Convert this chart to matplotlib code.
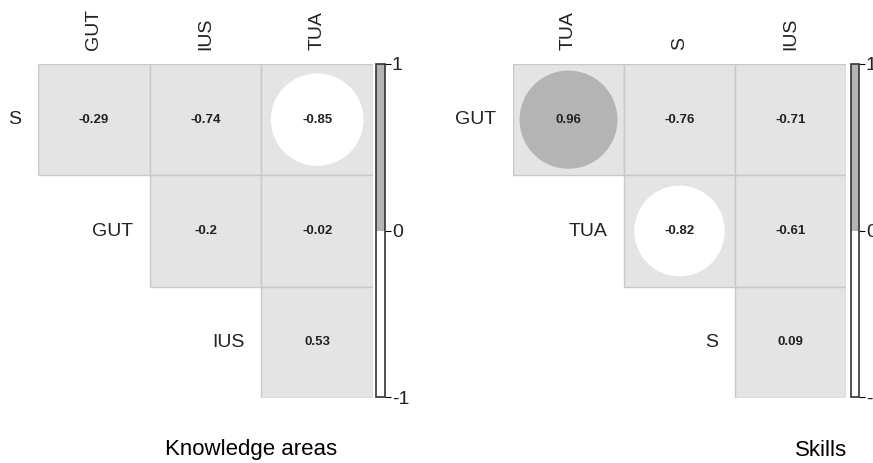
import numpy as np
import matplotlib.pyplot as plt
from matplotlib.patches import Rectangle, Circle
from matplotlib.colors import ListedColormap, Normalize
from matplotlib.cm import ScalarMappable

plt.rcParams['font.family'] = ['Liberation Sans', 'DejaVu Sans']

# Knowledge areas (upper triangle, None = empty)
ka_rows = ['S', 'GUT', 'IUS']
ka_cols = ['GUT', 'IUS', 'TUA']
ka_vals = [[-0.29, -0.74, -0.85],
           [None, -0.2, -0.02],
           [None, None, 0.53]]

# Skills
sk_rows = ['GUT', 'TUA', 'S']
sk_cols = ['TUA', 'S', 'IUS']
sk_vals = [[0.96, -0.76, -0.71],
           [None, -0.82, -0.61],
           [None, None, 0.09]]

# only strong correlations get a circle
show_min = 0.8

cmap = ListedColormap(['white', '#b4b4b4'])
norm = Normalize(-1, 1)

fig = plt.figure(figsize=(8.73, 4.63), dpi=100)
W, H = 873, 463


def px_axes(x0, y0, x1, y1):
    # pixel box (top-left origin) -> figure axes
    return fig.add_axes([x0 / W, 1 - y1 / H, (x1 - x0) / W, (y1 - y0) / H])


def corr_panel(box, cbox, rows, cols, vals, title, title_x):
    ax = px_axes(*box)
    n = len(rows)
    ax.set_xlim(0, n)
    ax.set_ylim(n, 0)
    ax.axis('off')
    for i in range(n):
        for j in range(n):
            v = vals[i][j]
            if v is None:
                continue
            ax.add_patch(Rectangle((j, i), 1, 1, facecolor='#e4e4e4',
                                   edgecolor='#c8c8c8', lw=1))
            if abs(v) >= show_min:
                r = 0.45 * np.sqrt(abs(v))
                ax.add_patch(Circle((j + 0.5, i + 0.5), r,
                                    facecolor=cmap(norm(v)), edgecolor='none'))
            ax.text(j + 0.5, i + 0.5, f'{v:g}', ha='center', va='center',
                    fontsize=9.5, fontweight='bold', color='#222222')
        # row label left of first cell in the row
        ax.annotate(rows[i], (i, i + 0.5), xytext=(-12, 0),
                    textcoords='offset points', ha='right', va='center',
                    fontsize=14, color='#222222')
    for j, c in enumerate(cols):
        ax.annotate(c, (j + 0.5, 0), xytext=(0, 10), textcoords='offset points',
                    ha='center', va='bottom', rotation=90, fontsize=14,
                    color='#222222')

    cax = px_axes(*cbox)
    cb = fig.colorbar(ScalarMappable(norm=norm, cmap=cmap), cax=cax,
                      ticks=[-1, 0, 1])
    cb.ax.set_yticklabels(['-1', '0', '1'])
    cb.ax.tick_params(labelsize=14, length=4, width=0.8, pad=1,
                      labelcolor='#222222')
    cb.outline.set_edgecolor('#333333')
    cb.outline.set_linewidth(1.2)

    fig.text(title_x / W, 1 - 450 / H, title, ha='center', va='center',
             fontsize=16)


corr_panel((38, 64, 373, 398), (376, 64, 385, 397),
           ka_rows, ka_cols, ka_vals, 'Knowledge areas', 251)
corr_panel((513, 64, 846, 398), (851, 64, 859, 397),
           sk_rows, sk_cols, sk_vals, 'Skills', 821)

fig.savefig('out.png', dpi=100)
